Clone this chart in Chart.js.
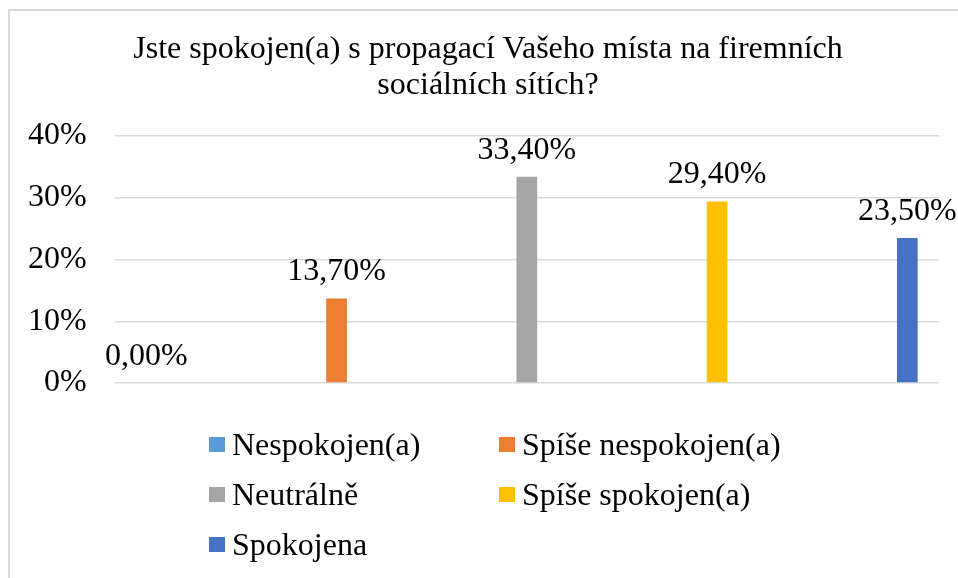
<!DOCTYPE html>
<html>
<head>
<meta charset="utf-8">
<script src="https://cdn.jsdelivr.net/npm/chart.js@4"></script>
<style>
  html, body { margin: 0; padding: 0; background: #fff; overflow: hidden; }
  #wrap { position: absolute; left: 0; top: 0; width: 958px; height: 578px; }
  #frame { position: absolute; left: 8px; top: 9px; width: 1000px; height: 700px;
           border-left: 2px solid #d9d9d9; border-top: 2px solid #d9d9d9; }
  #title { position: absolute; left: 0; top: 29px; width: 976px; text-align: center;
           font-family: "Liberation Serif", "Times New Roman", serif; font-size: 32px;
           line-height: 36px; color: #000; }
  #legend { position: absolute; left: 209px; top: 419px;
            display: grid; grid-template-columns: 290px 300px; grid-auto-rows: 50px;
            font-family: "Liberation Serif", "Times New Roman", serif; font-size: 32px; color: #000; }
  .item { display: flex; align-items: center; }
  .box { width: 16px; height: 15px; margin-right: 7px; }
</style>
</head>
<body>
<div id="frame"></div>
<div id="wrap"><canvas id="myChart"></canvas></div>
<div id="title"></div>
<div id="legend"></div>
<script>
const categories = ['Nespokojen(a)', 'Spíše nespokojen(a)', 'Neutrálně', 'Spíše spokojen(a)', 'Spokojena']
const values = [0.0, 13.7, 33.4, 29.4, 23.5]
const colors = ['#5B9BD5', '#ED7D31', '#A5A5A5', '#FFC000', '#4472C4']
const yTicks = [0, 10, 20, 30, 40]
const titleLines = ['Jste spokojen(a) s propagací Vašeho místa na firemních', 'sociálních sítích?']

const fontFamily = '"Liberation Serif", "Times New Roman", serif'

// one dataset per answer, value only in its own slot (like the Excel original)
const datasets = categories.map((name, i) => ({
    label: name,
    data: categories.map((c, j) => j === i ? values[i] : null),
    backgroundColor: colors[i],
    categoryPercentage: 0.77,
    barPercentage: 0.815
}))

const fmt = v => v.toFixed(2).replace('.', ',') + '%'

const valueLabels = {
    id: 'valueLabels',
    afterDatasetsDraw(chart) {
        const ctx = chart.ctx
        ctx.save()
        ctx.font = '32px ' + fontFamily
        ctx.fillStyle = '#000'
        ctx.textAlign = 'center'
        ctx.textBaseline = 'alphabetic'
        chart.data.datasets.forEach((ds, i) => {
            const meta = chart.getDatasetMeta(i)
            ds.data.forEach((v, j) => {
                if (v === null) return
                const el = meta.data[j]
                ctx.fillText(fmt(v), el.x, el.y - 18)
            })
        })
        ctx.restore()
    }
}

const ctx = document.getElementById('myChart').getContext('2d')
const myChart = new Chart(ctx, {
    type: 'bar',
    data: { labels: categories, datasets: datasets },
    options: {
        responsive: true,
        maintainAspectRatio: false,
        animation: false,
        layout: { padding: { left: 0, right: 19, top: 136, bottom: 195 } },
        plugins: {
            legend: { display: false },
            tooltip: { enabled: false },
            title: { display: false }
        },
        scales: {
            x: { display: false },
            y: {
                min: 0,
                max: 40,
                afterBuildTicks: axis => { axis.ticks = yTicks.map(v => ({ value: v })) },
                border: { display: false },
                grid: { color: '#d9d9d9', lineWidth: 1.5, drawTicks: false },
                ticks: {
                    padding: 28,
                    color: '#000',
                    font: { family: fontFamily, size: 32 },
                    callback: v => v + '%'
                }
            }
        }
    },
    plugins: [valueLabels]
})

document.getElementById('title').innerHTML = titleLines.join('<br>')

const legend = document.getElementById('legend')
categories.forEach((name, i) => {
    const item = document.createElement('div')
    item.className = 'item'
    const box = document.createElement('span')
    box.className = 'box'
    box.style.background = colors[i]
    const txt = document.createElement('span')
    txt.textContent = name
    item.appendChild(box)
    item.appendChild(txt)
    legend.appendChild(item)
})
</script>
</body>
</html>
